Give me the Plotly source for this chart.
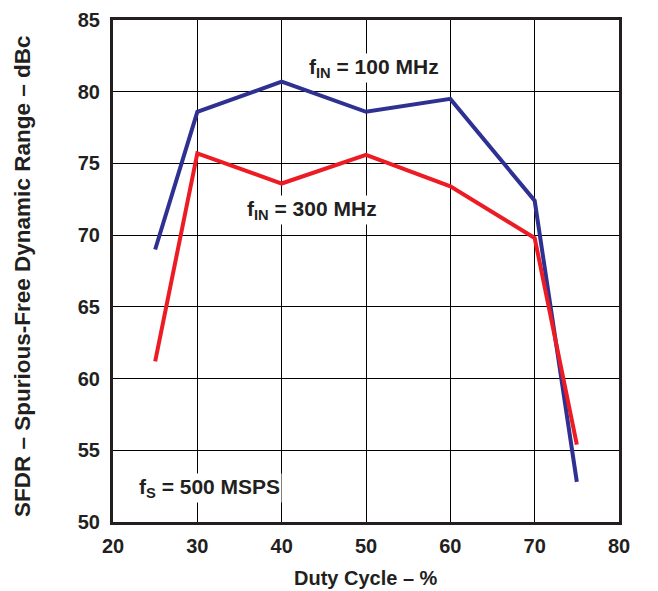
import plotly.graph_objects as go

duty_cycle = [25, 30, 40, 50, 60, 70, 75]
sfdr_100mhz = [69.0, 78.6, 80.7, 78.6, 79.5, 72.4, 52.8]
sfdr_300mhz = [61.2, 75.7, 73.6, 75.6, 73.4, 69.8, 55.4]
x_ticks = [20, 30, 40, 50, 60, 70, 80]
y_ticks = [50, 55, 60, 65, 70, 75, 80, 85]

TXT = "#231f20"
FONT = "Liberation Sans, Arial, sans-serif"

fig = go.Figure()
fig.add_trace(go.Scatter(x=duty_cycle, y=sfdr_100mhz, mode="lines",
                         line=dict(color="#2e3192", width=4), showlegend=False))
fig.add_trace(go.Scatter(x=duty_cycle, y=sfdr_300mhz, mode="lines",
                         line=dict(color="#ed1c24", width=4), showlegend=False))

label_font = dict(family=FONT, size=21, color=TXT)
title_font = dict(family=FONT, size=20, color=TXT)
fig.add_annotation(x=50.9, y=81.65, text="<b>f<sub>IN</sub> = 100 MHz</b>", showarrow=False,
                   bgcolor="white", font=label_font, borderpad=1)
fig.add_annotation(x=43.6, y=71.75, text="<b>f<sub>IN</sub> = 300 MHz</b>", showarrow=False,
                   bgcolor="white", font=label_font, borderpad=1)
fig.add_annotation(x=31.5, y=52.4, text="<b>f<sub>S</sub> = 500 MSPS</b>", showarrow=False,
                   bgcolor="white", font=label_font, borderpad=1)

# axis titles
fig.add_annotation(xref="paper", yref="paper", x=0.5, y=-0.1116, yanchor="middle",
                   text="<b>Duty Cycle – %</b>", showarrow=False, font=title_font)
fig.add_annotation(xref="paper", yref="paper", x=-0.18, y=0.49, xanchor="center",
                   yanchor="middle",
                   text="<b>SFDR – Spurious-Free Dynamic Range – dBc</b>", textangle=-90,
                   showarrow=False, font=dict(family=FONT, size=22.5, color=TXT))

axis_common = dict(showline=True, mirror=True, linecolor=TXT, linewidth=3,
                   showgrid=True, gridcolor="black", gridwidth=1, zeroline=False,
                   automargin=False,
                   ticks="", tickfont=dict(family=FONT, size=20, color=TXT))
fig.update_xaxes(range=[20, 80], tickvals=x_ticks, ticklabelstandoff=4,
                 ticktext=[f"<b>{v}</b>" for v in x_ticks], **axis_common)
fig.update_yaxes(range=[50, 85], tickvals=y_ticks, ticklabelstandoff=6,
                 ticktext=[f"<b>{v}</b>" for v in y_ticks], **axis_common)

# page body has an 8px default margin; size the figure so the plot lands in place
fig.update_layout(width=650, height=583, margin=dict(l=105, r=39, t=12, b=69),
                  plot_bgcolor="white", paper_bgcolor="white",
                  font=dict(family=FONT, color=TXT))
fig.write_html("out.html")
